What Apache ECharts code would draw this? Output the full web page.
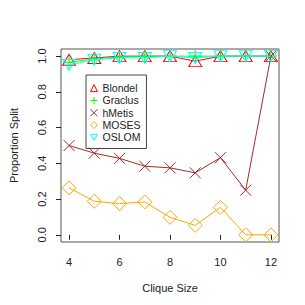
<!DOCTYPE html>
<html><head><meta charset="utf-8">
<script src="https://cdn.jsdelivr.net/npm/echarts@6/dist/echarts.min.js"></script>
<style>html,body{margin:0;padding:0;background:#fff}#c{width:305px;height:305px}</style>
</head><body><div id="c"></div>
<script>
const cliqueSizes = [4,5,6,7,8,9,10,11,12];
const blondel = [0.98,0.99,1.0,1.0,1.0,0.972,1.0,1.0,1.0];
const graclus = [0.965,0.985,0.995,1.0,1.0,1.0,1.0,1.0,1.0];
const hmetis  = [0.50,0.457,0.428,0.384,0.375,0.347,0.432,0.25,1.0];
const moses   = [0.263,0.188,0.175,0.184,0.098,0.053,0.154,0.0,0.0];
const oslom   = [0.95,0.98,0.99,0.99,1.0,0.99,1.0,1.0,1.0];
const xTicks = [4,6,8,10,12];
const yTicks = [0,0.2,0.4,0.6,0.8,1.0];
const seriesNames = ['Blondel','Graclus','hMetis','MOSES','OSLOM'];

const colors = ['#FF0000','#00FF00','#A52A2A','#FFA500','#00FFFF'];
const symbols = ['triangle','path://M5,0L5,10M0,5L10,5','path://M0,0L10,10M0,10L10,0','diamond','path://M0,0L10,0L5,8.66Z'];
const sizes = [[13,11],[12,12],[11,11],[14,14],[13,11]];
const values = [blondel, graclus, hmetis, moses, oslom];

const chart = echarts.init(document.getElementById('c'), null, {renderer:'svg'});
const font = 'Liberation Sans, Arial, sans-serif';
const series = seriesNames.map((n,i)=>({
  name:n, type:'line', silent:true,
  data: cliqueSizes.map((x,j)=>[x, values[i][j]]),
  symbol: symbols[i], symbolSize: sizes[i],
  showAllSymbol:true,
  lineStyle:{color:colors[i], width:1},
  itemStyle:{color:'rgba(255,255,255,0)', borderColor:colors[i], borderWidth:1},
  emphasis:{disabled:true}, animation:false, z: 2+i
}));
chart.setOption({
  animation:false,
  textStyle:{fontFamily:font},
  grid:{left:50, right:26, top:49, bottom:63, show:true, borderColor:'#555', borderWidth:1, backgroundColor:'transparent'},
  xAxis:{type:'value', min:3.68, max:12.32,
    name:'Clique Size', nameLocation:'middle', nameGap:40,
    nameTextStyle:{fontSize:11, color:'#222', fontFamily:font},
    axisLine:{show:false}, splitLine:{show:false},
    axisTick:{show:true, length:5, inside:false, customValues:xTicks, lineStyle:{color:'#222'}},
    axisLabel:{customValues:xTicks, fontSize:11, color:'#222', margin:14, fontFamily:font}
  },
  yAxis:{type:'value', min:-0.04, max:1.04,
    name:'Proportion Split', nameLocation:'middle', nameGap:42, nameRotate:90,
    nameTextStyle:{fontSize:11, color:'#222', fontFamily:font},
    axisLine:{show:false}, splitLine:{show:false},
    axisTick:{show:true, length:5, customValues:yTicks, lineStyle:{color:'#222'}},
    axisLabel:{customValues:yTicks, rotate:90, fontSize:11, color:'#222', margin:14, fontFamily:font,
      formatter:v=>v.toFixed(1)}
  },
  legend:{orient:'vertical', left:86, top:75, padding:[7,6,5,4],
    borderColor:'#444', borderWidth:1, backgroundColor:'#fff',
    itemWidth:7, itemHeight:7, itemGap:0, selectedMode:false,
    textStyle:{fontSize:10.5, color:'#222', fontFamily:font, lineHeight:12.3},
    data: seriesNames.map((n,i)=>({name:n, icon:symbols[i],
      itemStyle:{color:'rgba(255,255,255,0)', borderColor:colors[i], borderWidth:1}}))
  },
  series
});
</script></body></html>
